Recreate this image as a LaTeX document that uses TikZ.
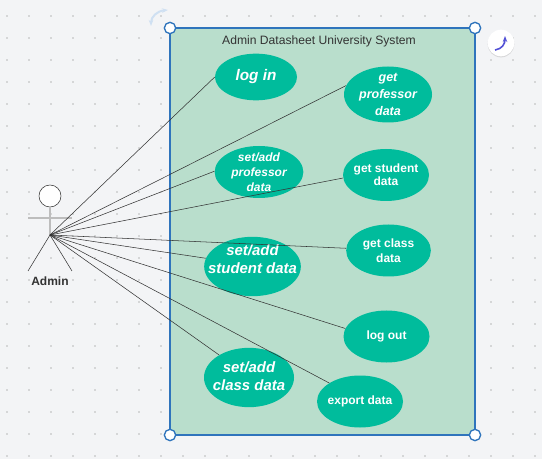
\documentclass[tikz,border=0pt]{standalone}
\usepackage{fontspec}
\setmainfont{Liberation Sans}
\usetikzlibrary{shapes.geometric,arrows.meta,shadows}
\definecolor{bgc}{HTML}{F3F4F6}
\definecolor{boxc}{HTML}{B9DECC}
\definecolor{usec}{HTML}{00BC9C}
\definecolor{sel}{HTML}{2F74BC}
\definecolor{inkc}{HTML}{333333}
\definecolor{armc}{HTML}{BDBDBD}
\definecolor{violetc}{HTML}{5352D6}
\definecolor{rotc}{HTML}{CFE0F2}
\tikzset{
  x=0.75pt,y=-0.75pt,
  usecase/.style={ellipse,fill=usec,inner sep=-25pt,text=white,align=center},
  link/.style={draw=inkc,line width=0.4pt},
  handle/.style={circle,draw=sel,fill=white,line width=1pt,minimum size=8.5pt,inner sep=0pt},
  griddot/.style={fill=black!55,draw=none}
}
\begin{document}
\begin{tikzpicture}
\useasboundingbox (0,0) rectangle (542,459);
\fill[bgc] (0,0) rectangle (542,459);
\foreach \i in {0,...,24}{\foreach \j in {0,...,20}{
  \fill[griddot] (7+22*\i,16+22*\j) circle (0.4pt);}}
% system box
\node[draw=sel,fill=boxc,line width=1pt,minimum width=228.75pt,minimum height=305.25pt,inner sep=0pt] (sys) at (322.5,231.5) {};
\node[text=inkc,font=\fontsize{9.1pt}{11pt}\selectfont] (title) at (319,41) {Admin Datasheet University System};
% use cases
\node[usecase,minimum width=61.5pt,minimum height=35pt,font=\fontsize{11.5pt}{14pt}\selectfont\bfseries\itshape] (login) at (256,77) {log in};
\node[usecase,minimum width=66pt,minimum height=42pt,font=\fontsize{9.4pt}{12.4pt}\selectfont\bfseries\itshape] (getprof) at (388,94.5) {get\\professor\\data};
\node[usecase,minimum width=66.5pt,minimum height=39pt,font=\fontsize{9pt}{11.2pt}\selectfont\bfseries\itshape] (setprof) at (259,172) {set/add\\professor\\data};
\node[usecase,minimum width=64.5pt,minimum height=39pt,font=\fontsize{9pt}{10pt}\selectfont\bfseries] (getstud) at (386,175) {get student\\data};
\node[usecase,minimum width=63.5pt,minimum height=39pt,font=\fontsize{9pt}{11pt}\selectfont\bfseries] (getclass) at (388.5,250.5) {get class\\data};
\node[usecase,minimum width=72.5pt,minimum height=44.5pt,font=\fontsize{11.2pt}{13.5pt}\selectfont\bfseries\itshape] (setstud) at (252.5,266.5) {set/add\\student data\\[-3pt]};
\node[usecase,minimum width=64.5pt,minimum height=39pt,font=\fontsize{9pt}{11pt}\selectfont\bfseries] (logout) at (386.5,336.5) {log out};
\node[usecase,minimum width=67.5pt,minimum height=44.5pt,font=\fontsize{11.2pt}{13.6pt}\selectfont\bfseries\itshape] (setclass) at (249,377.5) {set/add\\class data\\[-11.6pt]};
\node[usecase,minimum width=64.5pt,minimum height=39pt,font=\fontsize{9pt}{11pt}\selectfont\bfseries] (export) at (360,401.5) {export data};
% actor
\coordinate (hub) at (50,235);
\coordinate (armL) at (28,218);
\coordinate (armR) at (72,218);
\coordinate (legL) at (28,271);
\coordinate (legR) at (72,271);
\node[circle,draw=inkc,fill=white,line width=0.4pt,minimum size=16.5pt,inner sep=0pt] (head) at (50,196) {};
\draw[armc,line width=0.9pt] (head) -- (hub);
\draw[armc,line width=0.9pt] (armL) -- (armR);
\draw[link] (hub) -- (legL);
\draw[link] (hub) -- (legR);
\node[text=inkc,font=\fontsize{9pt}{11pt}\selectfont\bfseries] (admin) at (50,281) {Admin};
% connectors
\draw[link] (hub) -- (login.west);
\draw[link] (hub) -- (getprof.168);
\draw[link] (hub) -- (setprof.179);
\draw[link] (hub) -- (getstud.184);
\draw[link] (hub) -- (getclass.177);
\draw[link] (hub) -- (setstud.170);
\draw[link] (hub) -- (logout.169);
\draw[link] (hub) -- (setclass.143);
\draw[link] (hub) -- (export.149);
% selection handles
\node[handle] (h1) at (170,28) {};
\node[handle] (h2) at (475,28) {};
\node[handle] (h3) at (170,435) {};
\node[handle] (h4) at (475,435) {};
% rotate icon
\draw[rotc,line width=1.5pt,{Stealth[length=4.5pt]}-{Stealth[length=4.5pt]}] (151,26) .. controls (151,17) and (157,11) .. (168,10);
% style button
\node[circle,fill=white,minimum size=20pt,inner sep=0pt,drop shadow={opacity=0.25,shadow xshift=0pt,shadow yshift=-0.8pt}] (btn) at (501,43) {};
\draw[violetc,line width=1.2pt,-{Stealth[length=4.5pt]}] (495,50) .. controls (502,49) and (505,44) .. (505,36);
\end{tikzpicture}
\end{document}
